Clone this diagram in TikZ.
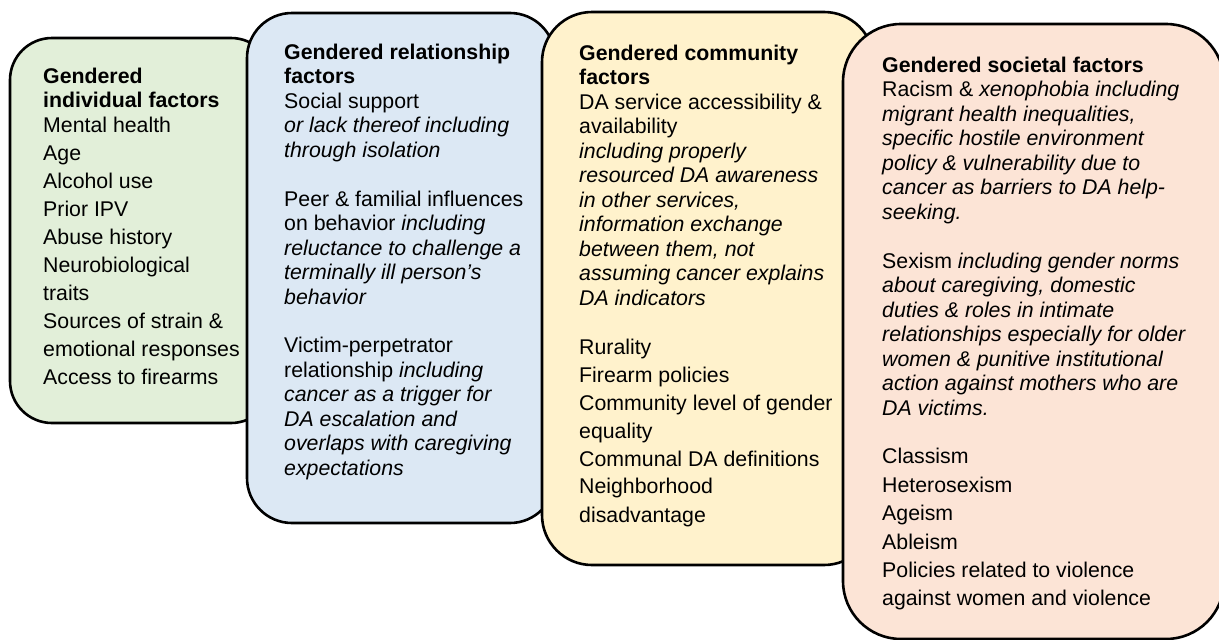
\documentclass[tikz,border=0pt]{standalone}
\usepackage{fontspec}
\setmainfont{Liberation Sans}
\definecolor{greenfill}{RGB}{226,239,217}
\definecolor{bluefill}{RGB}{220,232,244}
\definecolor{yellowfill}{RGB}{255,242,204}
\definecolor{salmonfill}{RGB}{252,228,214}
\tikzset{
  panel/.style={draw=black, line width=2.6pt, inner sep=0pt, rectangle},
  paneltext/.style={anchor=base west, inner sep=0pt, align=left,
    font=\fontsize{21.3}{24.5}\selectfont}
}
\newcommand{\gap}{\\[3.5pt]}
\begin{document}
\begin{tikzpicture}[x=1pt,y=-1pt]
\clip (0,0) rectangle (1219,640);
\fill[white] (0,0) rectangle (1219,640);
% boxes
\node[panel, fill=greenfill, minimum width=263pt, minimum height=385pt, rounded corners=42pt] (g) at (141.5,230.5) {};
\node[panel, fill=bluefill, minimum width=308pt, minimum height=510pt, rounded corners=45pt] (b) at (401,268) {};
\node[panel, fill=yellowfill, minimum width=332pt, minimum height=553pt, rounded corners=50pt] (y) at (708,288.5) {};
\node[panel, fill=salmonfill, minimum width=381pt, minimum height=615pt, rounded corners=58pt] (s) at (1033.5,331.5) {};
% texts
\node[paneltext] (gt) at (43,83) {\begin{tabular}[t]{@{}l@{}}
\textbf{Gendered}\\
\textbf{individual factors}\\
Mental health\gap
Age\gap
Alcohol use\gap
Prior IPV\gap
Abuse history\gap
Neurobiological\gap
traits\gap
Sources of strain \&\gap
emotional responses\gap
Access to firearms
\end{tabular}};
\node[paneltext] (bt) at (284,59) {\begin{tabular}[t]{@{}l@{}}
\textbf{Gendered relationship}\\
\textbf{factors}\\
Social support\\
\textit{or lack thereof including}\\
\textit{through isolation}\\
\\
Peer \& familial influences\\
on behavior \textit{including}\\
\textit{reluctance to challenge a}\\
\textit{terminally ill person’s}\\
\textit{behavior}\\
\\
Victim-perpetrator\\
relationship \textit{including}\\
\textit{cancer as a trigger for}\\
\textit{DA escalation and}\\
\textit{overlaps with caregiving}\\
\textit{expectations}
\end{tabular}};
\node[paneltext] (yt) at (579,60) {\begin{tabular}[t]{@{}l@{}}
\textbf{Gendered community}\\
\textbf{factors}\\
DA service accessibility \&\\
availability\\
\textit{including properly}\\
\textit{resourced DA awareness}\\
\textit{in other services,}\\
\textit{information exchange}\\
\textit{between them, not}\\
\textit{assuming cancer explains}\\
\textit{DA indicators}\\
\\
Rurality\gap
Firearm policies\gap
Community level of gender\gap
equality\gap
Communal DA definitions\gap
Neighborhood\gap
disadvantage
\end{tabular}};
\node[paneltext] (st) at (882,72) {\begin{tabular}[t]{@{}l@{}}
\textbf{Gendered societal factors}\\
Racism \& \textit{xenophobia including}\\
\textit{migrant health inequalities,}\\
\textit{specific hostile environment}\\
\textit{policy \& vulnerability due to}\\
\textit{cancer as barriers to DA help-}\\
\textit{seeking.}\\
\\
Sexism \textit{including gender norms}\\
\textit{about caregiving, domestic}\\
\textit{duties \& roles in intimate}\\
\textit{relationships especially for older}\\
\textit{women \& punitive institutional}\\
\textit{action against mothers who are}\\
\textit{DA victims.}\\
\\
Classism\\[3.9pt]
Heterosexism\\[3.9pt]
Ageism\\[3.9pt]
Ableism\\[3.9pt]
Policies related to violence\\[3.9pt]
against women and violence
\end{tabular}};
\end{tikzpicture}
\end{document}
